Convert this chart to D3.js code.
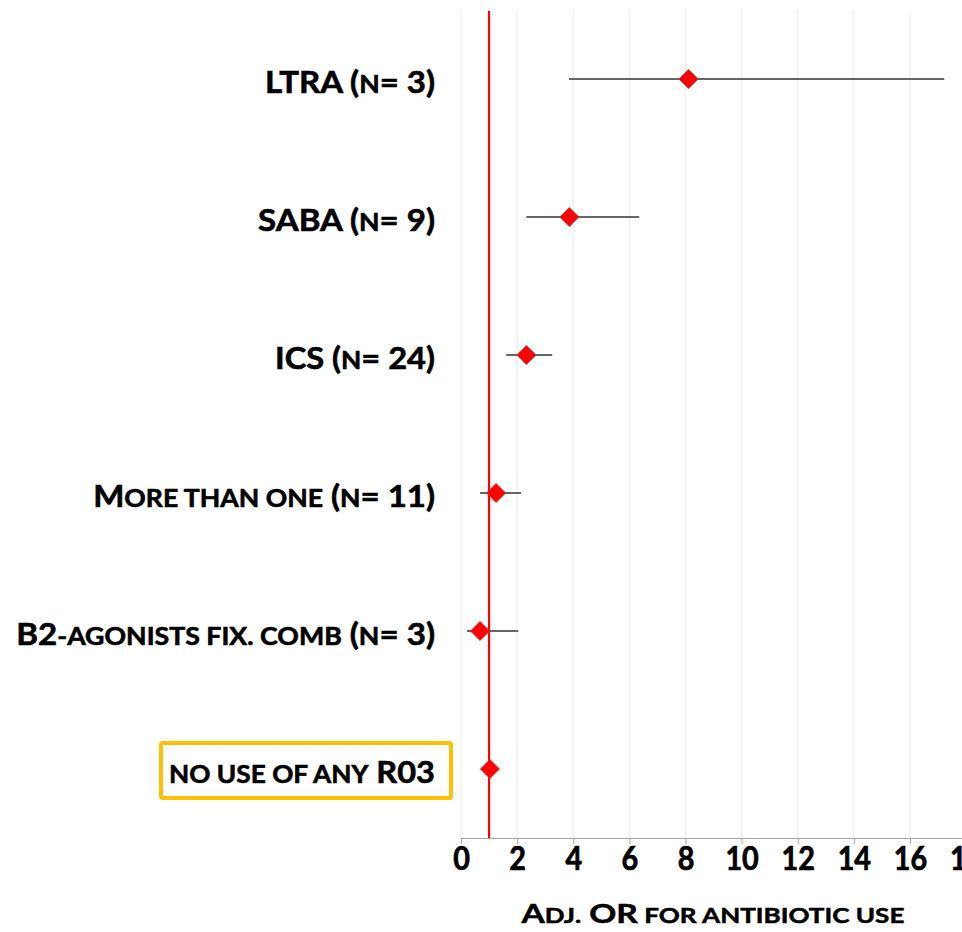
<!DOCTYPE html>
<html>
<head>
<meta charset="utf-8">
<script src="https://cdn.jsdelivr.net/npm/d3@7"></script>
<style>
  html, body { margin: 0; padding: 0; background: #fff; overflow: hidden; }
  svg { display: block; }
  text { font-family: Lato, "Open Sans", sans-serif; font-weight: 700; fill: #000; }
</style>
</head>
<body>
<div id="chart"></div>
<script>
// ---- data ----
const categories = ["LTRA", "SABA", "ICS", "More than one", "B2-agonists fix. comb", "No use of any R03"];
const orValues   = [8.11, 3.86, 2.33, 1.25, 0.68, 1.03];
const ciLow      = [3.85, 2.33, 1.61, 0.68, 0.21, null];
const ciHigh     = [17.22, 6.35, 3.25, 2.14, 2.04, null];
// label parts: [text, isBig]
const labelParts = [
  [["LTRA (", 1], ["N", 0], ["= 3)", 1]],
  [["SABA (", 1], ["N", 0], ["= 9)", 1]],
  [["ICS (", 1], ["N", 0], ["= 24)", 1]],
  [["M", 1], ["ORE THAN ONE", 0], [" (", 1], ["N", 0], ["= 11)", 1]],
  [["B2", 1], ["-AGONISTS FIX. COMB", 0], [" (", 1], ["N", 0], ["= 3)", 1]],
  [["NO USE OF ANY", 0], [" R03", 1]]
];
const xTicks = [0, 2, 4, 6, 8, 10, 12, 14, 16, 18];
const xDomain = [0, 18];
const refLine = 1;
const axisTitleParts = [["A", 1], ["DJ.", 0], [" OR", 1], [" FOR ANTIBIOTIC USE", 0]];
const targetWidths = [170, 177, 160, 342, 419, 266];

// ---- layout ----
const W = 962, H = 932;
const svg = d3.select("#chart").append("svg").attr("width", W).attr("height", H);

const x = d3.scaleLinear().domain(xDomain).range([461, 461 + 18 * 28.06]);
const y = d3.scaleBand().domain(categories).range([10, 838]);
const yc = c => y(c) + y.bandwidth() / 2;

// gridlines
svg.append("g").selectAll("line").data(xTicks).join("line")
  .attr("x1", d => x(d)).attr("x2", d => x(d))
  .attr("y1", 10).attr("y2", 838)
  .attr("stroke", "#ececec").attr("stroke-width", 1);

// x axis
const xAxis = d3.axisBottom(x).tickValues(xTicks).tickSize(6).tickPadding(4).tickFormat(d3.format("d"));
const gx = svg.append("g").attr("transform", "translate(0,838)").call(xAxis);
gx.select(".domain").attr("stroke", "#a6a6a6").attr("stroke-width", 1.2);
gx.selectAll(".tick line").attr("stroke", "#a6a6a6");
gx.selectAll(".tick text")
  .attr("font-family", "Lato, 'Open Sans', sans-serif")
  .attr("font-weight", 700)
  .attr("font-size", 32)
  .attr("fill", "#000")
  .attr("stroke", "#000").attr("stroke-width", 0.7)
  .attr("y", 0).attr("dy", 32.5)
  .attr("transform", "scale(0.9,1)");

// reference line
svg.append("line")
  .attr("x1", x(refLine)).attr("x2", x(refLine))
  .attr("y1", 11).attr("y2", 838)
  .attr("stroke", "#ff0000").attr("stroke-width", 2.2);

// CI lines
const rows = categories.map((c, i) => ({ c, v: orValues[i], lo: ciLow[i], hi: ciHigh[i] }));
svg.append("g").selectAll("line").data(rows.filter(d => d.lo != null)).join("line")
  .attr("x1", d => x(d.lo)).attr("x2", d => x(d.hi))
  .attr("y1", d => yc(d.c)).attr("y2", d => yc(d.c))
  .attr("stroke", "#333").attr("stroke-width", 1.5);

// diamonds
const sym = d3.symbol().type(d3.symbolSquare).size(182);
svg.append("g").selectAll("path").data(rows).join("path")
  .attr("d", sym)
  .attr("transform", d => `translate(${x(d.v)},${yc(d.c)}) rotate(45)`)
  .attr("fill", "#ff0000").attr("stroke", "#d23030").attr("stroke-width", 0.8);

// category labels
const BIG = 31, SMALL = 25;
const labelG = svg.append("g");
categories.forEach((c, i) => {
  const t = labelG.append("text")
    .attr("x", 435).attr("y", yc(c) + 14)
    .attr("text-anchor", "end")
    .attr("stroke", "#000").attr("stroke-width", 0.6);
  labelParts[i].forEach(([s, big]) => {
    t.append("tspan").attr("font-size", big ? BIG : SMALL).text(s);
  });
  const w = t.node().getComputedTextLength();
  const k = targetWidths[i] / w;
  t.attr("transform", `translate(435,0) scale(${k},1) translate(-435,0)`);
});

// highlight box
svg.append("rect")
  .attr("x", 161).attr("y", 743)
  .attr("width", 290).attr("height", 55)
  .attr("rx", 2)
  .attr("fill", "none").attr("stroke", "#ffc000").attr("stroke-width", 4);

// axis title
const at = svg.append("text").attr("x", 713).attr("y", 923).attr("text-anchor", "middle")
  .attr("stroke", "#000").attr("stroke-width", 0.5);
axisTitleParts.forEach(([s, big]) => at.append("tspan").attr("font-size", big ? 27 : 21).text(s));
const aw = at.node().getComputedTextLength();
at.attr("transform", `translate(713,0) scale(${383 / aw},1) translate(-713,0)`);
</script>
</body>
</html>
